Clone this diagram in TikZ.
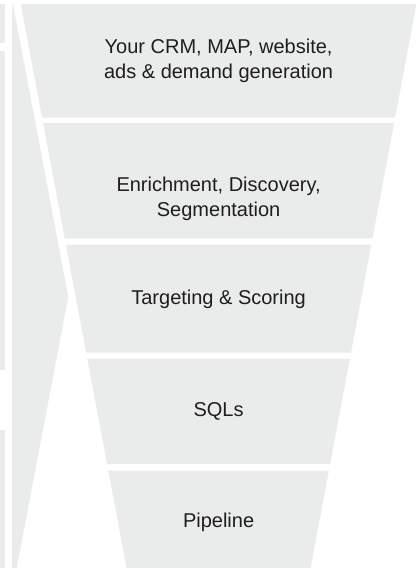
\documentclass[tikz,border=0pt]{standalone}
\usepackage{fontspec}
\setmainfont{Liberation Sans}
\definecolor{bandgray}{RGB}{234,235,235}
\definecolor{labelink}{RGB}{30,30,30}
\newcommand{\hw}[1]{(197.85-0.1877*(#1-4))}
\newcommand{\funnelband}[2]{%
  \fill[bandgray] ({218.6-\hw{#1}},#1) -- ({218.6+\hw{#1}},#1) -- ({218.6+\hw{#2}},#2) -- ({218.6-\hw{#2}},#2) -- cycle;}
\tikzset{
  band label/.style={align=center, inner sep=0pt, text=labelink,
    font=\fontsize{20}{25}\selectfont},
}
\begin{document}
\begin{tikzpicture}[x=1pt,y=-1pt]
\useasboundingbox (0,0) rectangle (419,568);
% left-edge strips
\fill[bandgray] (0,4) rectangle (5.3,42.5);
\fill[bandgray] (0,50.5) rectangle (5.3,370);
\fill[bandgray] (0,430) rectangle (5.3,568);
% large chevron
\fill[bandgray] (12,4) -- (12.9,4) -- (68.3,296.7) -- (16.7,568) -- (12,568) -- cycle;
% funnel bands
\funnelband{4}{117.5}
\funnelband{123}{238.5}
\funnelband{244.5}{352.5}
\funnelband{358.5}{464}
\funnelband{470.5}{568}
% labels
\node[band label] (crm) at (218.6,61) {Your CRM, MAP, website,\\ads \& demand generation};
\node[band label] (enrich) at (218.6,198.4) {Enrichment, Discovery,\\Segmentation};
\node[band label] (target) at (218.6,299) {Targeting \& Scoring};
\node[band label] (sql) at (218.6,411.5) {SQLs};
\node[band label] (pipe) at (218.6,522) {Pipeline};
\end{tikzpicture}
\end{document}
